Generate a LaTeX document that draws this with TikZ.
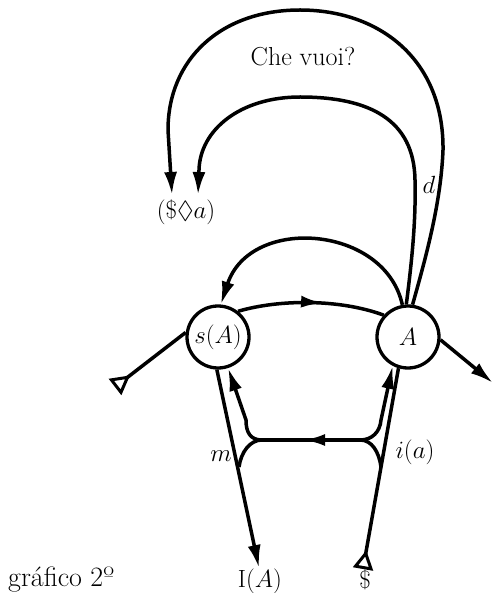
\documentclass[tikz,border=0pt]{standalone}
\usepackage{amsmath,amssymb}
\usepackage{tikz}
\usetikzlibrary{calc,positioning,decorations.markings,arrows.meta}
\tikzset{
  vec/.style={line width=3.5pt},
  arr/.style={-{Latex[length=23pt,width=13pt]}},
  startdelta/.style={{Triangle[open,reversed,length=19pt,width=20pt,line width=3pt]}-},
  midarr/.style={postaction={decorate},decoration={markings,
      mark=at position #1 with {\arrow{Latex[length=22pt,width=12pt]}}}},
  spot/.style={circle,draw,line width=3.3pt,minimum size=62pt,inner sep=0pt},
  lab/.style={inner sep=1pt,font=\fontsize{24.88}{30}\selectfont},
}

\begin{document}
\begin{tikzpicture}[x=1pt,y=-1pt]
  \useasboundingbox (0,0) rectangle (494,593);
  % places of the lower storey
  \node[spot,lab] (sA) at (218,337) {$s(A)$};
  \node[spot,lab] (A)  at (408,337) {$A$};
  % texts
  \node[lab,font=\fontsize{26}{30}\selectfont] (che) at (303,57) {Che vuoi?};
  \node[lab] (drive) at (186,212) {$(\$\lozenge a)$};
  \node[lab] (d)  at (429,185) {$d$};
  \node[lab] (ia) at (415,452) {$i(a)$};
  \node[lab] (m)  at (221,456) {$m$};
  \node[lab] (IA) at (260,581) {$\mathrm{I}(A)$};
  \node[lab] (S)  at (365,580) {\$};
  \node[lab,font=\fontsize{28}{32}\selectfont,anchor=base west] (title) at (7,586) {gráfico 2º};
  % free ends
  \coordinate (outtip) at (172,195);
  \coordinate (intip) at (198,195);
  \coordinate (IAtip) at (259,568);
  \coordinate (Sdelta) at (363,569);
  \coordinate (lefttri) at (115,387);
  \coordinate (righttip) at (493,383);
  \coordinate (jR) at (360,440);
  \coordinate (jL) at (262,440);

  % upper storey
  \draw[vec,arr] (A.82) .. controls (428,250) and (441,200) .. (443,150)
    .. controls (444,60) and (380,10) .. (300,10)
    .. controls (220,10) and (168,60) .. (168,130) -- (outtip);
  \draw[vec,arr] (A.93) .. controls (412,260) and (416,220) .. (415,180)
    .. controls (414,120) and (370,97) .. (300,97)
    .. controls (240,97) and (200,130) .. (199,170) -- (intip);
  \draw[vec,arr] (A.100) .. controls (385,225) and (250,215) .. (sA.85);

  % lower storey
  \draw[vec,midarr=0.58] (sA.52) .. controls (280,299) and (340,299) .. (A.138);
  \draw[vec,startdelta] (lefttri) -- (sA.172);
  \draw[vec,arr] (A.-5) -- (righttip);
  \draw[vec,arr] (sA.-92) -- (IAtip);
  \draw[vec,startdelta] (Sdelta) -- (A.-107);
  \draw[vec,midarr=0.58] (jR) -- (jL);
  \draw[vec,arr] (jR) .. controls (372,440) and (380,432) .. (381,420) -- (A.-118);
  \draw[vec] (jR) .. controls (372,440) and (379,452) .. (381,467);
  \draw[vec,arr] (jL) .. controls (250,440) and (246,432) .. (246,420) -- (sA.-72);
  \draw[vec] (jL) .. controls (250,440) and (241,452) .. (239,467);
\end{tikzpicture}
\end{document}
